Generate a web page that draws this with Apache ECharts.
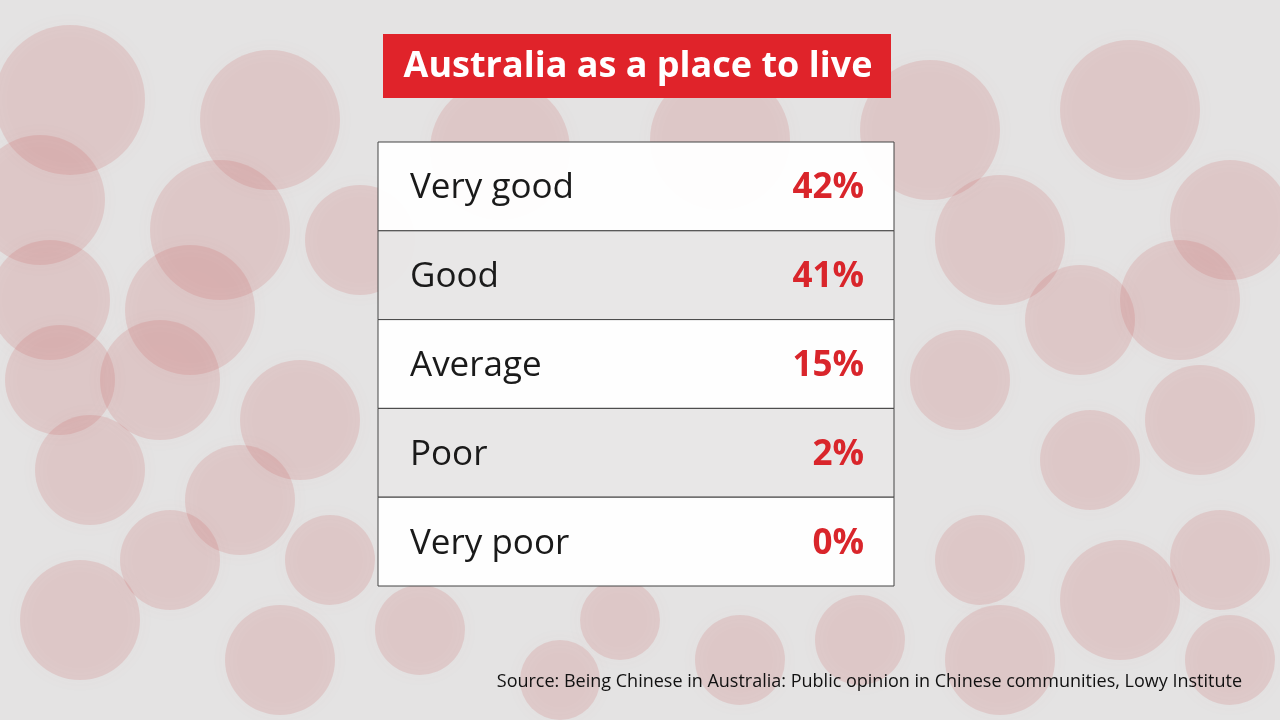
<!DOCTYPE html>
<html>
<head>
<meta charset="utf-8">
<script src="https://cdn.jsdelivr.net/npm/echarts@6/dist/echarts.min.js"></script>
<style>html,body{margin:0;padding:0;}#main{width:1280px;height:720px;}</style>
</head>
<body>
<div id="main"></div>
<script>
var categories = ['Very good', 'Good', 'Average', 'Poor', 'Very poor'];
var values = [42, 41, 15, 2, 0];
var titleText = 'Australia as a place to live';
var sourceText = 'Source: Being Chinese in Australia: Public opinion in Chinese communities, Lowy Institute';

// faded lanterns in the background photo
var lanterns = [
  [70,100,75],[270,120,70],[40,200,65],[220,230,70],[50,300,60],[190,310,65],[360,240,55],
  [60,380,55],[160,380,60],[300,420,60],[90,470,55],[240,500,55],[170,560,50],[330,560,45],
  [80,620,60],[280,660,55],[420,630,45],[500,150,70],[720,140,70],[930,130,70],[1130,110,70],
  [1230,220,60],[1000,240,65],[1180,300,60],[1080,320,55],[960,380,50],[1200,420,55],
  [1090,460,50],[980,560,45],[1120,600,60],[1220,560,50],[860,640,45],[620,620,40],[740,660,45],
  [1000,660,55],[1230,660,45],[560,680,40]
];
var bg = [{type: 'rect', shape: {x: 0, y: 0, width: 1280, height: 720}, style: {fill: '#e4e3e3'}, z: -10}];
lanterns.forEach(function (l) {
  bg.push({type: 'circle', shape: {cx: l[0], cy: l[1], r: l[2]},
    style: {fill: 'rgba(200,80,80,0.16)', shadowBlur: 20, shadowColor: 'rgba(200,80,80,0.2)'}, z: -9});
});
bg.push({type: 'rect', shape: {x: 383, y: 34, width: 508, height: 64}, style: {fill: '#e0232a'}, z: 5});
bg.push({type: 'text', x: 638, y: 67, style: {text: titleText, fill: '#fff', font: 'bold 36px "Open Sans", sans-serif', align: 'center', verticalAlign: 'middle'}, z: 6});
bg.push({type: 'text', right: 38, top: 673, style: {text: sourceText, fill: '#111', font: '18px "Open Sans", sans-serif'}, z: 6});

var myChart = echarts.init(document.getElementById('main'));
var option = {
  animation: false,
  graphic: bg,
  grid: {left: 378, top: 142, width: 516, height: 444},
  xAxis: {type: 'value', show: false, min: 0, max: 100},
  yAxis: {type: 'category', data: categories, inverse: true, show: false},
  series: [{
    type: 'custom',
    data: values.map(function (v, i) { return [v, i]; }),
    renderItem: function (params, api) {
      var idx = api.value(1);
      var cs = params.coordSys;
      var cy = api.coord([0, idx])[1];
      var h = api.size([0, 1])[1];
      return {
        type: 'group',
        children: [
          {type: 'rect', shape: {x: cs.x, y: cy - h / 2, width: cs.width, height: h},
            style: {fill: idx % 2 ? 'rgba(232,231,231,0.96)' : 'rgba(255,255,255,0.96)', stroke: '#444', lineWidth: 1}},
          {type: 'text', style: {x: cs.x + 32, y: cy + 2, text: categories[idx], fill: '#1a1a1a',
            font: '35px "Open Sans", sans-serif', verticalAlign: 'middle'}},
          {type: 'text', style: {x: cs.x + cs.width - 30, y: cy + 2, text: api.value(0) + '%', fill: '#d9252b',
            font: 'bold 35px "Open Sans", sans-serif', align: 'right', verticalAlign: 'middle'}}
        ]
      };
    }
  }]
};
myChart.setOption(option);
</script>
</body>
</html>
